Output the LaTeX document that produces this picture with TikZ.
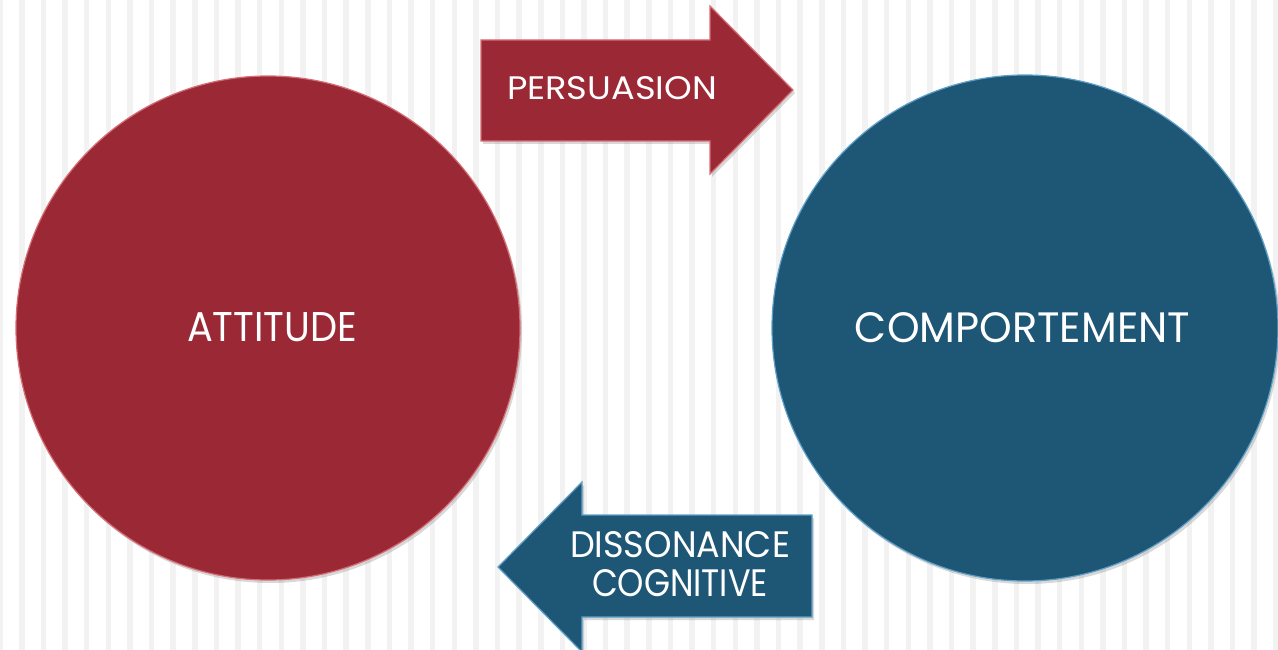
\documentclass[tikz,border=0pt]{standalone}
\usepackage{fontspec}
\setmainfont{Poppins}
\usetikzlibrary{shadows}
\definecolor{stripe}{RGB}{242,242,242}
\definecolor{redc}{RGB}{155,41,53}
\definecolor{redl}{RGB}{214,110,118}
\definecolor{bluec}{RGB}{30,86,118}
\definecolor{bluel}{RGB}{95,160,200}
\tikzset{
  sh/.style={drop shadow={opacity=0.3,shadow xshift=2pt,shadow yshift=-3pt}},
  redshape/.style={fill=redc,draw=redl,line width=1.2pt,sh},
  blueshape/.style={fill=bluec,draw=bluel,line width=1.2pt,sh},
  txt/.style={text=white,inner sep=0pt,font=\fontsize{40}{40}\selectfont},
}
\begin{document}
\begin{tikzpicture}[x=1pt,y=-1pt]
\useasboundingbox (0,0) rectangle (1278,650);
\fill[white] (0,0) rectangle (1278,650);
\foreach \i in {0,...,59} \fill[stripe] ({-2.5+\i*21.62},0) rectangle ++(5.5,650);
% circles
\node[circle,minimum size=504pt,inner sep=0pt,redshape] (att) at (268,328) {};
\node[circle,minimum size=506pt,inner sep=0pt,blueshape] (comp) at (1025,328) {};
\node[txt] (atttxt) at (272,327.5) {\resizebox{170pt}{29pt}{ATTITUDE}};
\node[txt] (comptxt) at (1022.5,328) {\resizebox{335pt}{30pt}{COMPORTEMENT}};
% persuasion arrow
\coordinate (p1) at (481,40);
\coordinate (p2) at (710,40);
\coordinate (p3) at (710,6);
\coordinate (p4) at (793,90);
\coordinate (p5) at (710,174);
\coordinate (p6) at (710,141);
\coordinate (p7) at (481,141);
\draw[redshape,line join=miter] (p1) -- (p2) -- (p3) -- (p4) -- (p5) -- (p6) -- (p7) -- cycle;
\node[txt] (pers) at (612,88.5) {\resizebox{210pt}{23pt}{PERSUASION}};
% dissonance arrow
\coordinate (d1) at (812,515);
\coordinate (d2) at (582,515);
\coordinate (d3) at (582,482);
\coordinate (d4) at (498,567);
\coordinate (d5) at (582,652);
\coordinate (d6) at (582,617);
\coordinate (d7) at (812,617);
\draw[blueshape,line join=miter] (d1) -- (d2) -- (d3) -- (d4) -- (d5) -- (d6) -- (d7) -- cycle;
\node[txt] (diss) at (680,545) {\resizebox{220pt}{26pt}{DISSONANCE}};
\node[txt] (cogn) at (680,583.5) {\resizebox{176pt}{27pt}{COGNITIVE}};
\end{tikzpicture}
\end{document}
